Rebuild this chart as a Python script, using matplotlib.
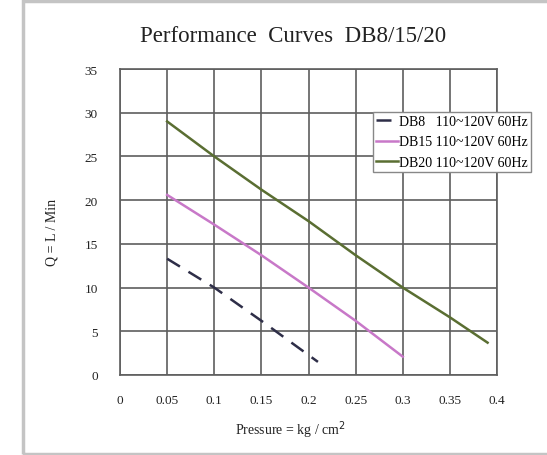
import matplotlib as mpl
mpl.use('Agg')
from matplotlib import pyplot as plt
from matplotlib.patches import Rectangle

# pressure (kg/cm2) vs flow (L/min)
db8_p = [0.05, 0.10, 0.15, 0.21]
db8_q = [13.3, 10.0, 6.2, 1.5]

db15_p = [0.05, 0.10, 0.15, 0.20, 0.25, 0.30]
db15_q = [20.6, 17.2, 13.7, 10.0, 6.2, 2.1]

db20_p = [0.05, 0.10, 0.15, 0.20, 0.25, 0.30, 0.35, 0.39]
db20_q = [29.0, 25.0, 21.2, 17.6, 13.7, 10.0, 6.6, 3.7]

x_ticks = [0, 0.05, 0.1, 0.15, 0.2, 0.25, 0.3, 0.35, 0.4]
x_labels = ['0', '0.05', '0.1', '0.15', '0.2', '0.25', '0.3', '0.35', '0.4']
y_ticks = [0, 5, 10, 15, 20, 25, 30, 35]

plt.rcParams['font.family'] = ['Liberation Serif', 'DejaVu Serif']

W, H = 547, 456
fig = plt.figure(figsize=(W / 100, H / 100), dpi=100)

# grey frame around the picture (cut off on the right)
fig.patches.append(Rectangle((23 / W, 1 / H), 600 / W, 453 / H, transform=fig.transFigure,
                             fill=False, edgecolor='#c4c4c4', lw=2.5))

ax = fig.add_axes([120 / W, 1 - 376 / H, 377 / W, 306 / H])

ax.plot(db8_p, db8_q, color='#2e2e48', lw=1.8, ls=(0, (6, 4)), label='DB8   110~120V 60Hz')
ax.plot(db15_p, db15_q, color='#c878c8', lw=1.8, label='DB15 110~120V 60Hz')
ax.plot(db20_p, db20_q, color='#5a6e32', lw=1.8, label='DB20 110~120V 60Hz')

ax.set_xlim(0, 0.4)
ax.set_ylim(0, 35)
ax.set_xticks(x_ticks)
ax.set_xticklabels(x_labels)
ax.set_yticks(y_ticks)
ax.grid(True, color='#5e5e5e', lw=1.2)
ax.set_axisbelow(True)
for s in ax.spines.values():
    s.set_color('#5e5e5e')
    s.set_linewidth(1.2)
ax.tick_params(length=0, labelsize=9.5, colors='#222222')
ax.tick_params(axis='x', pad=14)
ax.tick_params(axis='y', pad=16)

leg = ax.legend(loc='upper left', bbox_to_anchor=(253 / 377, (376 - 113) / 306),
                fontsize=10, frameon=True, fancybox=False, borderaxespad=0,
                handlelength=1.6, handletextpad=0.1, borderpad=0.2, labelspacing=0.55)
leg.get_frame().set_edgecolor('#888888')
leg.get_frame().set_linewidth(1.0)
leg.get_frame().set_alpha(1)
leg.set_zorder(5)

fig.text(293 / W, 1 - 36 / H, 'Performance  Curves  DB8/15/20', ha='center', va='center',
         fontsize=16.5, color='#222222')
fig.text(290 / W, 1 - 430 / H, 'Pressure = kg / cm$^2$', ha='center', va='center',
         fontsize=10, color='#222222')
fig.text(52 / W, 1 - 232 / H, 'Q = L / Min', ha='center', va='center', rotation=90,
         fontsize=10, color='#222222')

fig.savefig('out.png', dpi=100)
